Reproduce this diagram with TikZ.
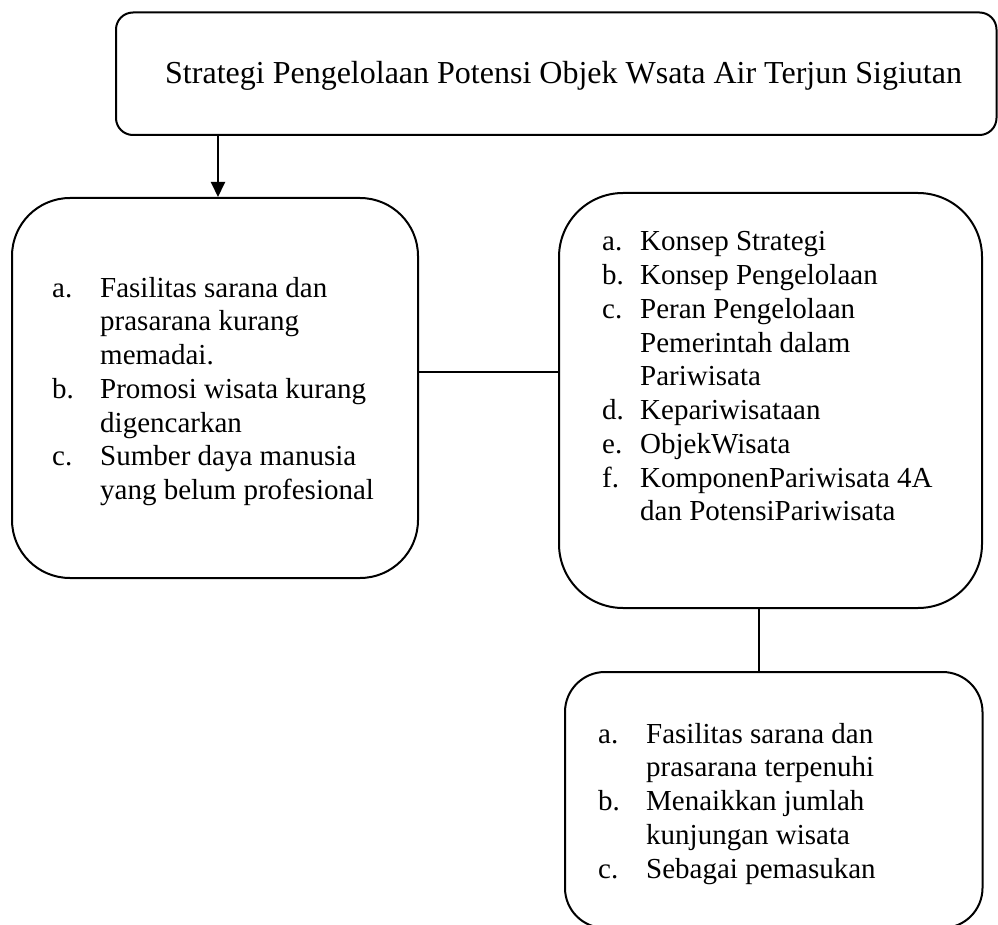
\documentclass[tikz,border=0pt]{standalone}
\usepackage{fontspec}
\setmainfont{Liberation Serif}
\usetikzlibrary{arrows.meta,positioning}

\begin{document}
\begin{tikzpicture}[x=1pt,y=-1pt]
	\tikzstyle{Box}		= [draw, line width=2pt, inner sep=0pt]
	\tikzstyle{Teks}	= [anchor=base west, inner sep=0pt, font=\fontsize{29}{33.75}\selectfont]
	\tikzstyle{Judul}	= [Teks, font=\fontsize{32}{38}\selectfont]
	\tikzstyle{Link}	= [line width=2pt]
	
	\useasboundingbox (0,0) rectangle (998,925);
	
	\node (judul) at (556.25,73.75) [Box][rounded corners=17pt, minimum width=880.5pt, minimum height=122.5pt] {};
	\node (hambatan) at (215,388) [Box][rounded corners=58pt, minimum width=406pt, minimum height=380pt] {};
	\node (teori) at (770.5,400.5) [Box][rounded corners=64pt, minimum width=423pt, minimum height=415pt] {};
	\node (hasil) at (773.75,800) [Box][rounded corners=40pt, minimum width=417.5pt, minimum height=256pt] {};
	
	\node (judulTeks) at (165,84) [Judul] {Strategi Pengelolaan Potensi Objek Wsata Air Terjun Sigiutan};
	\node (hambatanTeks) at (52,297) [Teks] {\begin{tabular}[t]{@{}p{48pt}@{}l@{}}
		a. & Fasilitas sarana dan\\
		   & prasarana kurang\\
		   & memadai.\\
		b. & Promosi wisata kurang\\
		   & digencarkan\\
		c. & Sumber daya manusia\\
		   & yang belum profesional
	\end{tabular}};
	\node (teoriTeks) at (602,251) [Teks] {\begin{tabular}[t]{@{}p{38pt}@{}l@{}}
		a. & Konsep Strategi\\
		b. & Konsep Pengelolaan\\
		c. & Peran Pengelolaan\\
		   & Pemerintah dalam\\
		   & Pariwisata\\
		d. & Kepariwisataan\\
		e. & ObjekWisata\\
		f. & KomponenPariwisata 4A\\
		   & dan PotensiPariwisata
	\end{tabular}};
	\node (hasilTeks) at (598,743) [Teks] {\begin{tabular}[t]{@{}p{48pt}@{}l@{}}
		a. & Fasilitas sarana dan\\
		   & prasarana terpenuhi\\
		b. & Menaikkan jumlah\\
		   & kunjungan wisata\\
		c. & Sebagai pemasukan
	\end{tabular}};
	
	\coordinate (panah) at (218,0);
	\coordinate (tengah) at (0,372);
	\coordinate (bawah) at (759,0);
	
	\draw [Link, -{Triangle[length=15pt,width=14pt]}] (judul.south -| panah) to (hambatan.north -| panah);
	\draw [Link] (hambatan.east |- tengah) to (teori.west |- tengah);
	\draw [Link] (teori.south -| bawah) to (hasil.north -| bawah);
\end{tikzpicture}
\end{document}
